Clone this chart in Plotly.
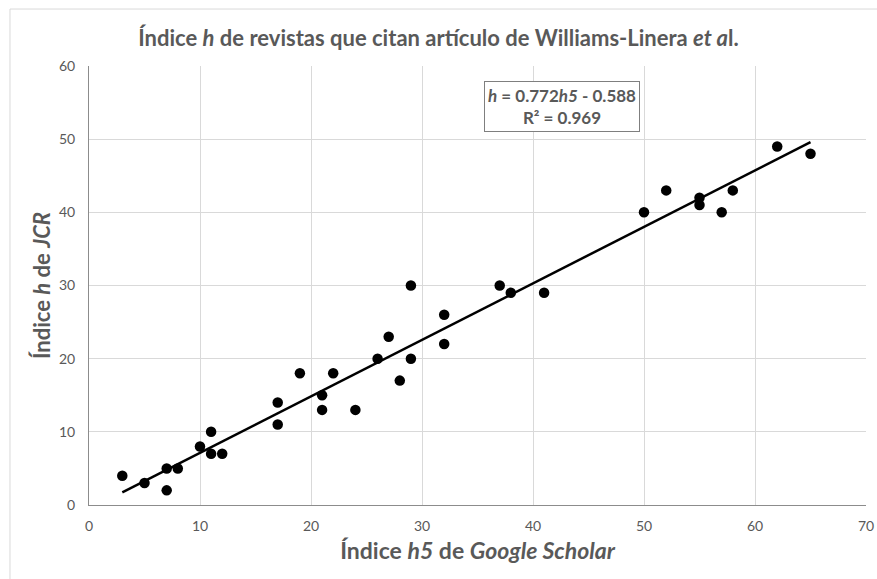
import numpy as np
import plotly.graph_objects as go

h5_google = [3, 5, 7, 7, 8, 10, 11, 11, 12, 17, 17, 19, 21, 21, 22, 24, 26, 27, 28, 29, 29,
             32, 32, 37, 38, 41, 50, 52, 55, 55, 57, 58, 62, 65]
h_jcr = [4, 3, 5, 2, 5, 8, 10, 7, 7, 14, 11, 18, 15, 13, 18, 13, 20, 23, 17, 30, 20,
         26, 22, 30, 29, 29, 40, 43, 42, 41, 40, 43, 49, 48]
x_ticks = [0, 10, 20, 30, 40, 50, 60, 70]
y_ticks = [0, 10, 20, 30, 40, 50, 60]

slope, intercept = 0.772, -0.588
trend_x = [min(h5_google), max(h5_google)]
trend_y = [slope * v + intercept for v in trend_x]

FONT = "Lato"
GRAY = "#595959"

fig = go.Figure()
fig.add_trace(go.Scatter(x=trend_x, y=trend_y, mode="lines",
                         line=dict(color="black", width=2.5), hoverinfo="skip"))
fig.add_trace(go.Scatter(x=h5_google, y=h_jcr, mode="markers",
                         marker=dict(color="black", size=10.5)))

fig.update_layout(
    width=877, height=579,
    margin=dict(l=89, r=11, t=66, b=74, autoexpand=False),
    paper_bgcolor="white", plot_bgcolor="white",
    showlegend=False,
    font=dict(family=FONT, color=GRAY),
    title=dict(text="<b>Índice <i>h</i> de revistas que citan artículo de Williams-Linera <i>et a</i>l.</b>",
               x=0.5, xanchor="center", y=0.933, yanchor="middle",
               font=dict(size=22, color=GRAY, family=FONT)),
    xaxis=dict(range=[0, 70], tickvals=x_ticks, showgrid=True, gridcolor="#d9d9d9", gridwidth=1,
               showline=True, linecolor="#8c8c8c", linewidth=1, zeroline=False, automargin=False,
               ticks="", ticklabelstandoff=8, tickfont=dict(size=14, color=GRAY),
               title=dict(text="<b>Índice <i>h5</i> de <i>Google Scholar</i></b>",
                          font=dict(size=23, color=GRAY), standoff=10)),
    yaxis=dict(range=[0, 60], tickvals=y_ticks, showgrid=True, gridcolor="#d9d9d9", gridwidth=1,
               showline=True, linecolor="#8c8c8c", linewidth=1, zeroline=False, automargin=False,
               ticks="", ticklabelstandoff=10, tickfont=dict(size=14, color=GRAY),
               title=dict(text="<b>Índice <i>h</i> de <i>JCR</i></b>",
                          font=dict(size=22, color=GRAY), standoff=2)),
    shapes=[dict(type="rect", xref="paper", yref="paper",
                 x0=-0.1017, x1=1.05, y0=-0.2, y1=1.1298,
                 line=dict(color="#d9d9d9", width=1), fillcolor="rgba(0,0,0,0)", layer="below")],
    annotations=[dict(x=42.6, y=54.4, xref="x", yref="y",
                      text="<b><i>h</i> = 0.772<i>h5</i> - 0.588</b><br><b>R² = 0.969</b>",
                      showarrow=False, align="center",
                      font=dict(size=17, color=GRAY, family=FONT),
                      bordercolor="#7f7f7f", borderwidth=1, borderpad=3, bgcolor="white")],
)

fig.write_html("out.html", config={"displayModeBar": False},
               post_script="document.body.style.margin='0';document.body.style.overflow='hidden';")
